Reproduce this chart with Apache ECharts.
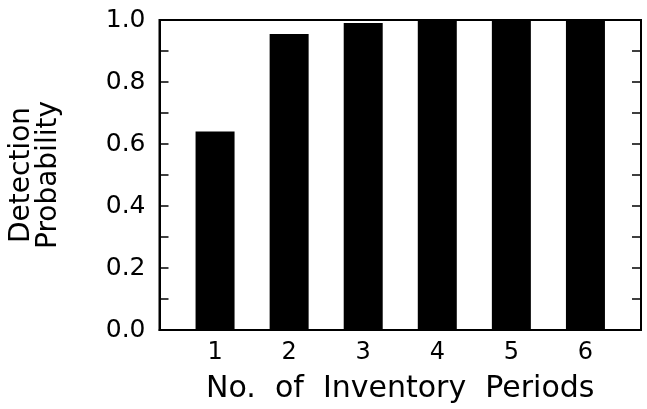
<!DOCTYPE html>
<html>
<head>
<meta charset="utf-8">
<script src="https://cdn.jsdelivr.net/npm/echarts@6/dist/echarts.min.js"></script>
<style>
  html, body { margin: 0; padding: 0; background: #fff; }
  #chart { width: 647px; height: 409px; }
</style>
</head>
<body>
<div id="chart"></div>
<script>
// inventory periods and the detection probability
var periods = [1, 2, 3, 4, 5, 6];
var probability = [0.64, 0.955, 0.99, 1.0, 1.0, 1.0];

var chart = echarts.init(document.getElementById("chart"));
var font = "DejaVu Sans";

var option = {
  animation: false,
  grid: {
    left: 158,
    right: 6,
    top: 20,
    bottom: 76,
    show: true,
    borderColor: "#000",
    borderWidth: 2,
  },
  xAxis: {
    type: "value",
    min: 0.25,
    max: 6.75,
    splitLine: { show: false },
    axisLine: { lineStyle: { color: "#000", width: 2 } },
    axisTick: { show: false },
    axisLabel: {
      customValues: periods,
      color: "#000",
      fontFamily: font,
      fontSize: 24,
      margin: 11,
    },
    name: "No.  of  Inventory  Periods",
    nameLocation: "middle",
    nameGap: 44,
    nameTextStyle: { color: "#000", fontFamily: font, fontSize: 30 },
  },
  yAxis: [
    {
      type: "value",
      min: 0,
      max: 1,
      interval: 0.2,
      splitLine: { show: false },
      axisLine: { lineStyle: { color: "#000", width: 2 } },
      axisTick: { inside: true, length: 9, lineStyle: { color: "#000", width: 1.5 } },
      minorTick: { show: true, splitNumber: 2, length: 9, lineStyle: { color: "#000", width: 1.5 } },
      axisLabel: {
        color: "#000",
        fontFamily: font,
        fontSize: 25,
        margin: 14,
        formatter: function (v) { return v.toFixed(1); },
      },
      name: "Detection\nProbability",
      nameLocation: "middle",
      nameRotate: 90,
      nameGap: 97,
      nameTextStyle: { color: "#000", fontFamily: font, fontSize: 28, lineHeight: 27, align: "center" },
    },
    {
      type: "value",
      position: "right",
      min: 0,
      max: 1,
      interval: 0.2,
      splitLine: { show: false },
      axisLine: { lineStyle: { color: "#000", width: 2 } },
      axisTick: { inside: true, length: 9, lineStyle: { color: "#000", width: 1.5 } },
      minorTick: { show: true, splitNumber: 2, length: 9, lineStyle: { color: "#000", width: 1.5 } },
      axisLabel: { show: false },
    },
  ],
  series: [
    {
      type: "bar",
      barWidth: 39,
      itemStyle: { color: "#000" },
      data: periods.map(function (p, i) { return [p, probability[i]]; }),
    },
  ],
};
chart.setOption(option);
</script>
</body>
</html>
